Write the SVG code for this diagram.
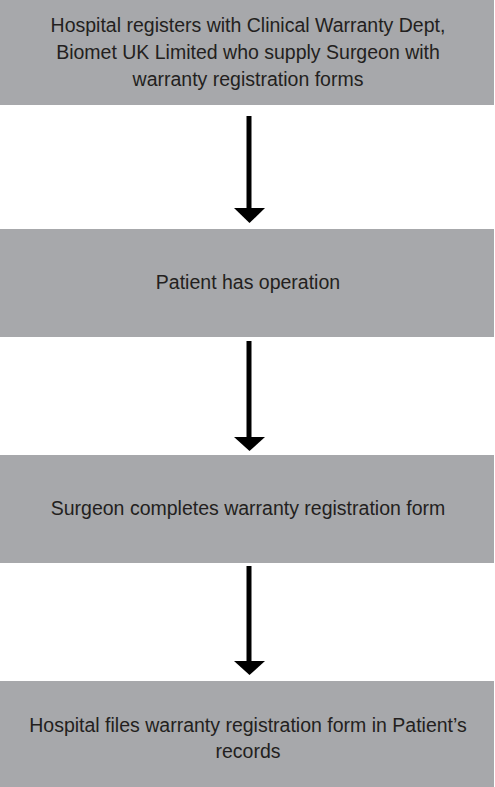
<svg xmlns="http://www.w3.org/2000/svg" width="495" height="787" viewBox="0 0 495 787">
<style>
.box{fill:#a7a8ab}
.t{font-family:"Liberation Sans",Arial,sans-serif;font-size:19.5px;fill:#231f20;text-anchor:middle}
.c{stroke:#000;stroke-width:5;fill:none}
.h{fill:#000}
</style>
<rect width="495" height="787" fill="#fff"/>
<g id="n1"><rect class="box" x="0" y="0" width="494" height="105"/>
<text class="t" x="248" y="32">Hospital registers with Clinical Warranty Dept,</text>
<text class="t" x="248" y="59">Biomet UK Limited who supply Surgeon with</text>
<text class="t" x="248" y="86">warranty registration forms</text></g>
<g id="n2"><rect class="box" x="0" y="229" width="494" height="108"/>
<text class="t" x="248" y="289">Patient has operation</text></g>
<g id="n3"><rect class="box" x="0" y="455" width="494" height="108"/>
<text class="t" x="248" y="515">Surgeon completes warranty registration form</text></g>
<g id="n4"><rect class="box" x="0" y="681" width="494" height="106"/>
<text class="t" x="248" y="732">Hospital files warranty registration form in Patient’s</text>
<text class="t" x="248" y="758">records</text></g>
<g id="connectors">
<line class="c" x1="249" y1="116" x2="249" y2="210"/>
<polygon class="h" points="234,208 265,208 249.5,223"/>
<line class="c" x1="249" y1="341" x2="249" y2="439"/>
<polygon class="h" points="234,437 265,437 249.5,451"/>
<line class="c" x1="249" y1="566" x2="249" y2="663"/>
<polygon class="h" points="234,661 265,661 249.5,675"/>
</g>
</svg>
